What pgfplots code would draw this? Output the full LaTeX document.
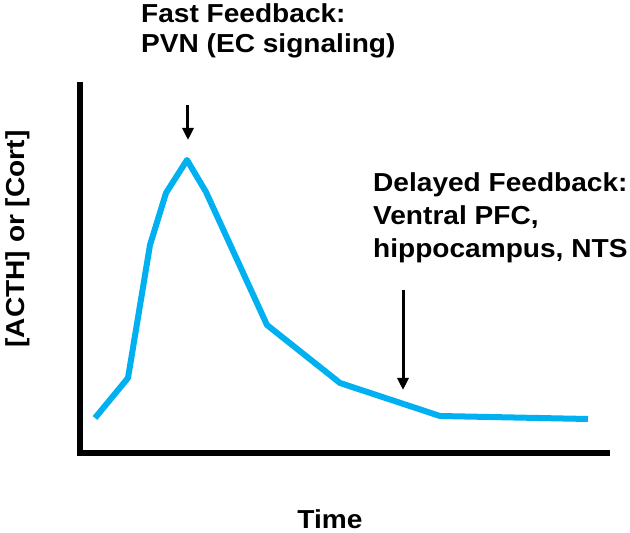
\documentclass[border=0pt]{standalone}
\usepackage{fontspec}
\setmainfont{Liberation Sans}[FakeStretch=1.08]
\usepackage{pgfplots}
\pgfplotsset{compat=1.18}
\usetikzlibrary{arrows.meta}
\definecolor{curve}{RGB}{0,176,240}

\begin{document}
\begin{tikzpicture}
\begin{axis}[
  x=1pt, y=1pt,
  xmin=80, xmax=607, ymin=80, ymax=448,
  axis lines=left,
  axis line style={-, line width=6pt, line cap=rect},
  xtick=\empty, ytick=\empty,
  clip=false,
  font=\bfseries\fontsize{26}{30}\selectfont]
\path (axis cs:0,0) rectangle (axis cs:630,533);
\addplot[curve, line width=6pt, line join=round] coordinates {
  (95,115) (128,155) (150,288) (166,340) (187,373) (206,341)
  (267,208) (340,150) (440,117) (588,114)};
% annotations
\draw[line width=3pt, -{Triangle[width=11pt,length=12pt]}] (axis cs:188,428) -- (axis cs:188,393);
\draw[line width=3pt, -{Triangle[width=11pt,length=12pt]}] (axis cs:403,243) -- (axis cs:403,143);
\node[anchor=base west, inner sep=0pt] at (axis cs:141,510) {Fast Feedback:};
\node[anchor=base west, inner sep=0pt] at (axis cs:141,480) {PVN (EC signaling)};
\node[anchor=base west, inner sep=0pt] at (axis cs:373,341) {Delayed Feedback:};
\node[anchor=base west, inner sep=0pt] at (axis cs:373,308) {Ventral PFC,};
\node[anchor=base west, inner sep=0pt] at (axis cs:373,275) {hippocampus, NTS};
\node[anchor=base, inner sep=0pt] at (axis cs:330,4) {Time};
\node[rotate=90, inner sep=0pt] at (axis cs:18,294) {[ACTH] or [Cort]};
\end{axis}
\end{tikzpicture}
\end{document}
